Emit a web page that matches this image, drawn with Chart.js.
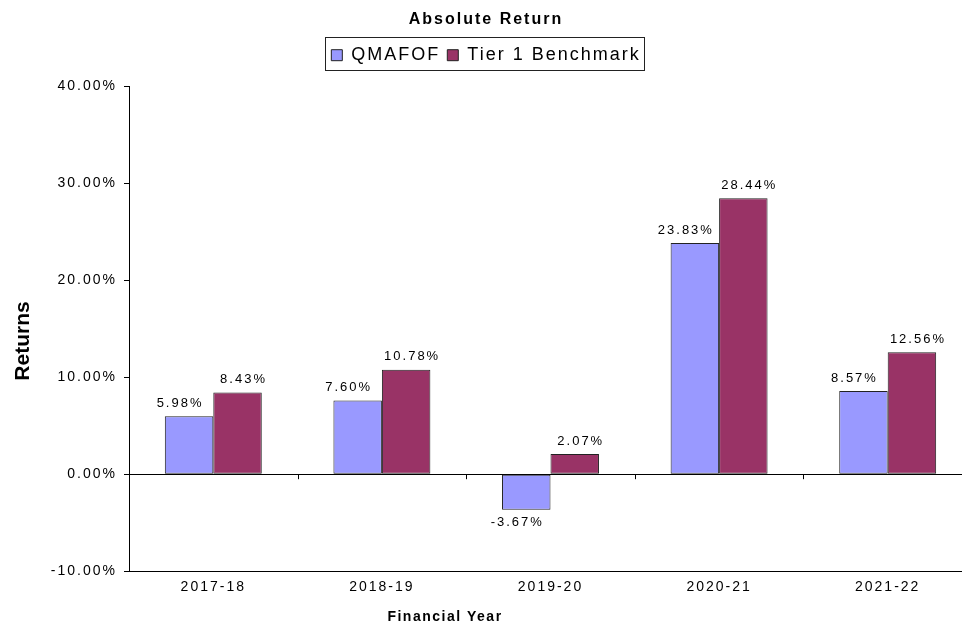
<!DOCTYPE html>
<html>
<head>
<meta charset="utf-8">
<title>Absolute Return</title>
<script src="https://cdn.jsdelivr.net/npm/chart.js@4.4.1/dist/chart.umd.min.js"></script>
<style>
  html, body { margin: 0; padding: 0; background: #fff; overflow: hidden; }
  #wrap { width: 962px; height: 628px; overflow: hidden; }
  canvas { display: block; }
</style>
</head>
<body>
<div id="wrap"><canvas id="chart" width="975" height="628"></canvas></div>
<script>
const years = ['2017-18', '2018-19', '2019-20', '2020-21', '2021-22'];
const qmafof = [5.98, 7.60, -3.67, 23.83, 8.57];
const tier1 = [8.43, 10.78, 2.07, 28.44, 12.56];
const yMin = -10;
const yMax = 40;
const yStep = 10;

const FONT = "'Liberation Sans', Arial, sans-serif";
Chart.defaults.font.family = FONT;
Chart.defaults.color = '#000';

// the source image is a stretched Excel chart, so widen the letters a bit,
// and leave some more room under the legend
const tweaks = {
  id: 'tweaks',
  afterInit(chart) {
    chart.ctx.letterSpacing = '2px';
    const legend = chart.legend;
    if (legend) {
      const fit = legend.fit;
      legend.fit = function () {
        fit.call(this);
        this.height += 12;
      };
    }
  }
};

const valueLabels = {
  id: 'valueLabels',
  afterDatasetsDraw(chart) {
    const ctx = chart.ctx;
    ctx.save();
    ctx.font = '13px ' + FONT;
    ctx.fillStyle = '#000';
    ctx.textAlign = 'center';
    ctx.textBaseline = 'middle';
    chart.data.datasets.forEach((ds, i) => {
      const shift = i === 0 ? -9 : 6;
      chart.getDatasetMeta(i).data.forEach((bar, j) => {
        const v = ds.data[j];
        const y = v >= 0 ? bar.y - 13 : bar.y + 13;
        ctx.fillText(v.toFixed(2) + '%', bar.x + shift, y);
      });
    });
    ctx.restore();
  }
};

const decorations = {
  id: 'decorations',
  afterDraw(chart) {
    const ctx = chart.ctx;
    const x = chart.scales.x;
    const y = chart.scales.y;
    const zero = y.getPixelForValue(0);
    ctx.save();

    // small category ticks hanging under the zero line
    ctx.strokeStyle = '#000';
    ctx.lineWidth = 1;
    ctx.beginPath();
    for (let i = 0; i < years.length - 1; i++) {
      const px = Math.round((x.getPixelForValue(i) + x.getPixelForValue(i + 1)) / 2) + 0.5;
      ctx.moveTo(px, zero);
      ctx.lineTo(px, zero + 5);
    }
    ctx.stroke();

    // box round the legend
    const boxes = chart.legend.legendHitBoxes;
    if (boxes && boxes.length) {
      const first = boxes[0];
      const last = boxes[boxes.length - 1];
      const l = Math.round(first.left - 6) + 0.5;
      const r = Math.round(last.left + last.width + 3) + 0.5;
      const t = Math.round(first.top - 9) + 0.5;
      const b = Math.round(first.top + first.height + 6) + 0.5;
      ctx.strokeStyle = '#222';
      ctx.strokeRect(l, t, r - l, b - t);
    }

    // axis titles
    ctx.letterSpacing = '0px';
    ctx.fillStyle = '#000';
    ctx.textAlign = 'center';
    ctx.textBaseline = 'middle';
    ctx.font = 'bold 21px ' + FONT;
    ctx.save();
    ctx.translate(23, 341);
    ctx.rotate(-Math.PI / 2);
    ctx.fillText('Returns', 0, 0);
    ctx.restore();

    ctx.letterSpacing = '1.5px';
    ctx.font = 'bold 14px ' + FONT;
    ctx.fillText('Financial Year', 445, 617);
    ctx.restore();
  }
};

new Chart(document.getElementById('chart'), {
  type: 'bar',
  data: {
    labels: years,
    datasets: [
      {
        label: 'QMAFOF',
        data: qmafof,
        backgroundColor: '#9999FF',
        borderColor: '#222',
        borderWidth: 1,
        borderSkipped: false
      },
      {
        label: 'Tier 1 Benchmark',
        data: tier1,
        backgroundColor: '#993366',
        borderColor: '#222',
        borderWidth: 1,
        borderSkipped: false
      }
    ]
  },
  options: {
    responsive: false,
    animation: false,
    devicePixelRatio: 1,
    layout: {
      padding: { left: 0, right: 3, top: 0, bottom: 24 }
    },
    datasets: {
      bar: {
        barPercentage: 1,
        categoryPercentage: 0.575
      }
    },
    scales: {
      x: {
        grid: { display: false, drawTicks: false },
        border: { display: true, color: '#000', width: 1 },
        ticks: {
          padding: 8,
          color: '#000',
          font: { size: 14 }
        }
      },
      y: {
        min: yMin,
        max: yMax,
        afterFit(scale) {
          scale.width = 129;
        },
        ticks: {
          stepSize: yStep,
          padding: 7,
          color: '#000',
          font: { size: 14 },
          callback: v => v.toFixed(2) + '%'
        },
        grid: {
          drawTicks: true,
          tickLength: 5,
          tickColor: '#000',
          color: ctx => (ctx.tick && ctx.tick.value === 0 ? '#000' : 'rgba(0,0,0,0)')
        },
        border: { display: true, color: '#000', width: 1 }
      }
    },
    plugins: {
      title: {
        display: true,
        text: 'Absolute Return',
        color: '#000',
        font: { size: 16, weight: 'bold' },
        padding: { top: 10, bottom: 10 }
      },
      legend: {
        display: true,
        labels: {
          color: '#000',
          font: { size: 18 },
          boxWidth: 11,
          boxHeight: 11,
          padding: 7
        }
      },
      tooltip: { enabled: false }
    }
  },
  plugins: [tweaks, valueLabels, decorations]
});
</script>
</body>
</html>
